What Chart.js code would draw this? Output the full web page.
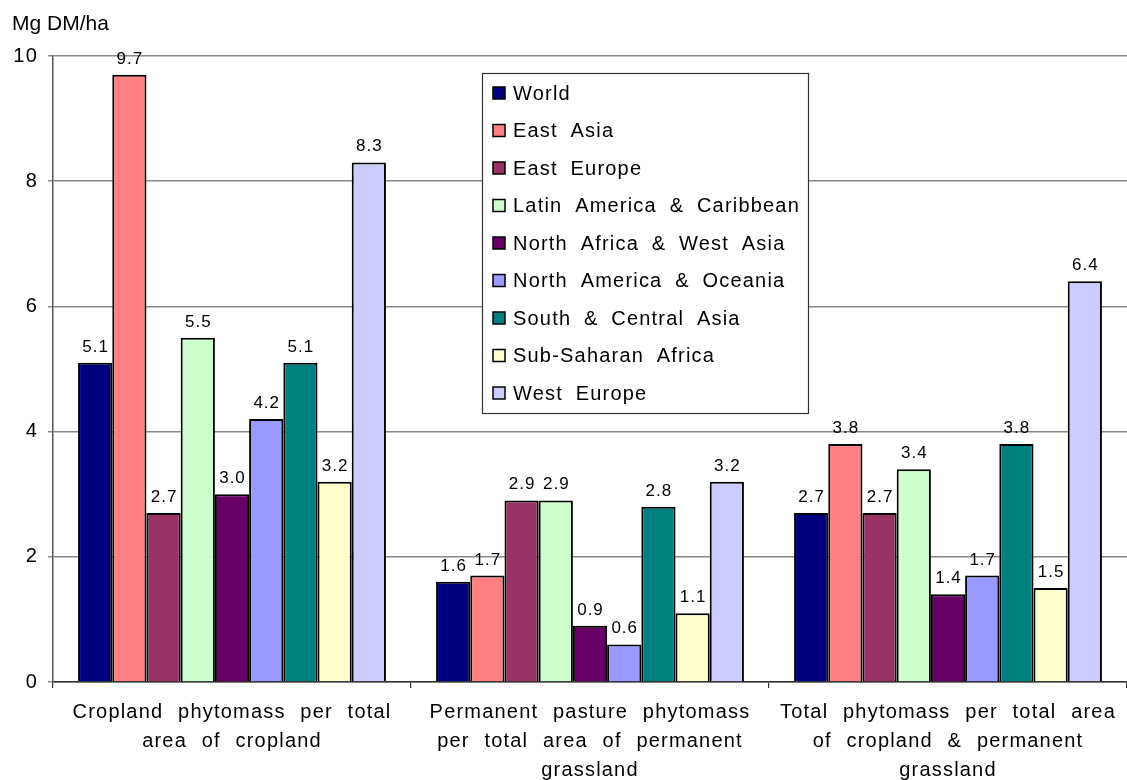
<!DOCTYPE html>
<html>
<head>
<meta charset="utf-8">
<title>Phytomass per area by region</title>
<script src="https://cdn.jsdelivr.net/npm/chart.js@4.4.1/dist/chart.umd.min.js"></script>
<style>
  html, body { margin: 0; padding: 0; background: #fff; }
  #wrap { width: 1127px; height: 780px; position: relative; }
</style>
</head>
<body>
<div id="wrap"><canvas id="chart"></canvas></div>
<script>
// Categories (multi-line axis labels)
const categories = [
  ['Cropland phytomass per total', 'area of cropland'],
  ['Permanent pasture phytomass', 'per total area of permanent', 'grassland'],
  ['Total phytomass per total area', 'of cropland & permanent', 'grassland']
];

// Regions and their colours
const regions = [
  'World', 'East Asia', 'East Europe', 'Latin America & Caribbean',
  'North Africa & West Asia', 'North America & Oceania',
  'South & Central Asia', 'Sub-Saharan Africa', 'West Europe'
];
const regionColors = [
  '#000080', '#FF8080', '#993366', '#CCFFCC',
  '#660066', '#9999FF', '#008080', '#FFFFCC', '#CCCCFF'
];

// Phytomass, Mg DM/ha: [cropland, permanent pasture, total]
const world            = [5.1, 1.6, 2.7];
const eastAsia         = [9.7, 1.7, 3.8];
const eastEurope       = [2.7, 2.9, 2.7];
const latinAmerica     = [5.5, 2.9, 3.4];
const northAfrica      = [3.0, 0.9, 1.4];
const northAmerica     = [4.2, 0.6, 1.7];
const southCentralAsia = [5.1, 2.8, 3.8];
const subSaharanAfrica = [3.2, 1.1, 1.5];
const westEurope       = [8.3, 3.2, 6.4];

const seriesValues = [
  world, eastAsia, eastEurope, latinAmerica, northAfrica,
  northAmerica, southCentralAsia, subSaharanAfrica, westEurope
];

// Y axis ticks
const yTicks = [0, 2, 4, 6, 8, 10];
const unitLabel = 'Mg DM/ha';

const FONT = "'Liberation Sans', Arial, sans-serif";

// Spaced-out text like the original spreadsheet rendering
function applySpacing(ctx) {
  if ('letterSpacing' in ctx) ctx.letterSpacing = '1.2px';
  if ('wordSpacing' in ctx) ctx.wordSpacing = '8px';
}
const textSpacing = {
  id: 'textSpacing',
  beforeUpdate(chart) { applySpacing(chart.ctx); },
  beforeDraw(chart) { applySpacing(chart.ctx); }
};

// Unit label above the value axis
const unitTitle = {
  id: 'unitTitle',
  afterDraw(chart) {
    const ctx = chart.ctx;
    ctx.save();
    if ('letterSpacing' in ctx) ctx.letterSpacing = '0px';
    if ('wordSpacing' in ctx) ctx.wordSpacing = '0px';
    ctx.font = '21px ' + FONT;
    ctx.fillStyle = '#000';
    ctx.textAlign = 'left';
    ctx.textBaseline = 'alphabetic';
    ctx.fillText(unitLabel, 12, 30);
    ctx.restore();
  }
};

// Value labels above each bar
const valueLabels = {
  id: 'valueLabels',
  afterDatasetsDraw(chart) {
    const ctx = chart.ctx;
    ctx.save();
    if ('letterSpacing' in ctx) ctx.letterSpacing = '1px';
    ctx.font = '17px ' + FONT;
    ctx.fillStyle = '#000';
    ctx.textAlign = 'center';
    ctx.textBaseline = 'alphabetic';
    chart.data.datasets.forEach((ds, i) => {
      const meta = chart.getDatasetMeta(i);
      meta.data.forEach((bar, j) => {
        ctx.fillText(ds.data[j].toFixed(1), bar.x + 0.5, bar.y - 11);
      });
    });
    ctx.restore();
  }
};

// Boxed legend inside the plot area
const boxLegend = {
  id: 'boxLegend',
  afterDraw(chart) {
    const ctx = chart.ctx;
    const box = { x: 482, y: 73, w: 326, h: 340 };
    ctx.save();
    ctx.fillStyle = '#fff';
    ctx.fillRect(box.x, box.y, box.w, box.h);
    ctx.strokeStyle = '#333';
    ctx.lineWidth = 1.2;
    ctx.strokeRect(box.x + 0.5, box.y + 0.5, box.w, box.h);
    ctx.font = '20px ' + FONT;
    ctx.textAlign = 'left';
    ctx.textBaseline = 'middle';
    if ('letterSpacing' in ctx) ctx.letterSpacing = '1.2px';
    if ('wordSpacing' in ctx) ctx.wordSpacing = '6px';
    chart.data.datasets.forEach((ds, i) => {
      const cy = 93 + i * 37.5;
      ctx.fillStyle = ds.backgroundColor;
      ctx.fillRect(493, cy - 6, 12, 12);
      ctx.strokeStyle = '#000';
      ctx.lineWidth = 1.5;
      ctx.strokeRect(493, cy - 6, 12, 12);
      ctx.fillStyle = '#000';
      ctx.fillText(ds.label, 513, cy + 1);
    });
    ctx.restore();
  }
};

const datasets = regions.map((name, i) => ({
  label: name,
  data: seriesValues[i],
  backgroundColor: regionColors[i],
  borderColor: '#000',
  borderWidth: 2,
  categoryPercentage: 0.86,
  barPercentage: 1.0
}));

new Chart(document.getElementById('chart'), {
  type: 'bar',
  data: { labels: categories, datasets },
  plugins: [textSpacing, valueLabels, boxLegend, unitTitle],
  options: {
    responsive: true,
    maintainAspectRatio: false,
    animation: false,
    devicePixelRatio: 1,
    layout: { padding: { top: 56, left: 0, right: 0, bottom: 0 } },
    plugins: {
      legend: { display: false },
      tooltip: { enabled: false },
      title: { display: false }
    },
    scales: {
      x: {
        offset: true,
        grid: {
          offset: true,
          drawOnChartArea: false,
          drawTicks: true,
          tickLength: 6,
          color: '#333',
          lineWidth: 1.2
        },
        border: { display: true, color: '#333', width: 1.5 },
        ticks: {
          color: '#000',
          font: { family: FONT, size: 20, lineHeight: 1.45 },
          padding: 10,
          maxRotation: 0,
          autoSkip: false
        },
        afterFit(scale) { scale.height = 98; }
      },
      y: {
        min: yTicks[0],
        max: yTicks[yTicks.length - 1],
        afterBuildTicks(scale) { scale.ticks = yTicks.map(v => ({ value: v })); },
        grid: {
          color: '#888',
          lineWidth: 1.5,
          drawTicks: true,
          tickLength: 5
        },
        border: { display: true, color: '#555', width: 1.5 },
        ticks: {
          color: '#000',
          font: { family: FONT, size: 20 },
          padding: 10
        },
        afterFit(scale) { scale.width = 53; }
      }
    }
  }
});
</script>
</body>
</html>
